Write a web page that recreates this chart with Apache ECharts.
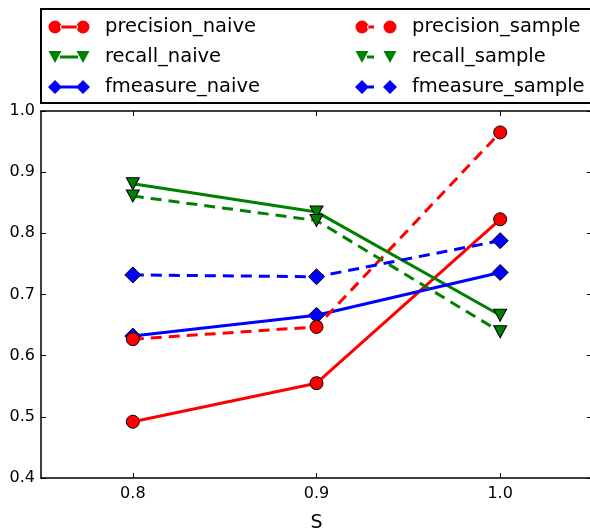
<!DOCTYPE html>
<html>
<head>
<meta charset="utf-8">
<script src="https://cdn.jsdelivr.net/npm/echarts@6/dist/echarts.min.js"></script>
<style>
html, body { margin: 0; padding: 0; background: #fff; }
#main { width: 590px; height: 529px; }
</style>
</head>
<body>
<div id="main"></div>
<script>
// data
var sValues = [0.8, 0.9, 1.0];
var yTicks = [0.4, 0.5, 0.6, 0.7, 0.8, 0.9, 1.0];
var precisionNaive = [0.492, 0.555, 0.823];
var recallNaive = [0.881, 0.835, 0.666];
var fmeasureNaive = [0.632, 0.666, 0.736];
var precisionSample = [0.627, 0.647, 0.965];
var recallSample = [0.861, 0.821, 0.639];
var fmeasureSample = [0.732, 0.729, 0.788];

var FONT = 'DejaVu Sans';

// legend icons: marker - line - marker (matplotlib style)
var circ = function (cx) {
    return 'M' + (cx - 6.5) + ',7a6.5,6.5 0 1,0 13,0a6.5,6.5 0 1,0 -13,0Z';
};
var tri = function (cx) {
    return 'M' + (cx - 6.5) + ',1L' + (cx + 6.5) + ',1L' + cx + ',13Z';
};
var dia = function (cx) {
    return 'M' + (cx - 7) + ',7L' + cx + ',0L' + (cx + 7) + ',7L' + cx + ',14Z';
};
var solidBar = 'M12,5.5L30,5.5L30,8.5L12,8.5Z';
var dashBar = 'M12,5.5L19,5.5L19,8.5L12,8.5Z';
// tiny anchors so every path spans the same 42x14 box
var box = 'M0,0L0.01,0L0.01,0.01ZM42,14L41.99,14L41.99,13.99Z';

var icons = {
    precision_naive: 'path://' + box + circ(7) + solidBar + circ(35),
    recall_naive: 'path://' + box + tri(7) + solidBar + tri(35),
    fmeasure_naive: 'path://' + box + dia(7) + solidBar + dia(35),
    precision_sample: 'path://' + box + circ(7) + dashBar + circ(35),
    recall_sample: 'path://' + box + tri(7) + dashBar + tri(35),
    fmeasure_sample: 'path://' + box + dia(7) + dashBar + dia(35)
};

function pts(arr) {
    return sValues.map(function (s, i) { return [s, arr[i]]; });
}

function mkSeries(name, arr, color, symbol, size, dashed) {
    return {
        name: name,
        type: 'line',
        data: pts(arr),
        symbol: symbol,
        symbolSize: size,
        symbolRotate: symbol === 'triangle' ? 180 : 0,
        showAllSymbol: true,
        clip: false,
        color: color,
        lineStyle: { color: color, width: 3, type: dashed ? [11, 7] : 'solid' },
        itemStyle: { color: color, borderColor: '#000', borderWidth: 1 },
        emphasis: { disabled: true },
        animation: false
    };
}

function legendData(names) {
    return names.map(function (n) { return { name: n, icon: icons[n] }; });
}

var legendCommon = {
    orient: 'vertical',
    top: 17,
    padding: 0,
    itemWidth: 42,
    itemHeight: 14,
    itemGap: 10,
    selectedMode: false,
    itemStyle: { borderWidth: 0 },
    textStyle: { fontFamily: FONT, fontSize: 19.5, color: '#000', padding: [0, 0, 0, 10] }
};

var tickFmt = function (v) { return Number(v).toFixed(1); };

var myChart = echarts.init(document.getElementById('main'));
var option = {
    backgroundColor: '#fff',
    animation: false,
    graphic: [{
        type: 'rect',
        shape: { x: 41, y: 9, width: 560, height: 94 },
        style: { fill: 'none', stroke: '#000', lineWidth: 2 },
        silent: true
    }],
    legend: [
        Object.assign({}, legendCommon, { left: 48, data: legendData(['precision_naive', 'recall_naive', 'fmeasure_naive']) }),
        Object.assign({}, legendCommon, { left: 355, data: legendData(['precision_sample', 'recall_sample', 'fmeasure_sample']) })
    ],
    grid: { left: 41, right: -2, top: 111, bottom: 51, outerBoundsMode: 'none' },
    xAxis: [{
        type: 'value',
        position: 'bottom',
        min: 0.75,
        max: 1.05,
        name: 'S',
        nameLocation: 'middle',
        nameGap: 36,
        nameTextStyle: { fontFamily: FONT, fontSize: 19, color: '#000' },
        axisLine: { show: true, onZero: false, lineStyle: { color: '#000', width: 1.5 } },
        axisTick: { show: true, inside: true, length: 5, customValues: sValues, lineStyle: { color: '#000', width: 1 } },
        axisLabel: { customValues: sValues, formatter: tickFmt, margin: 8, fontFamily: FONT, fontSize: 16, color: '#000' },
        splitLine: { show: false }
    }, {
        type: 'value',
        position: 'top',
        min: 0.75,
        max: 1.05,
        axisLine: { show: true, onZero: false, lineStyle: { color: '#000', width: 1.5 } },
        axisTick: { show: true, inside: true, length: 5, customValues: sValues, lineStyle: { color: '#000', width: 1 } },
        axisLabel: { show: false },
        splitLine: { show: false }
    }],
    yAxis: [{
        type: 'value',
        position: 'left',
        min: 0.4,
        max: 1.0,
        axisLine: { show: true, onZero: false, lineStyle: { color: '#000', width: 1.5 } },
        axisTick: { show: true, inside: true, length: 5, customValues: yTicks, lineStyle: { color: '#000', width: 1 } },
        axisLabel: { customValues: yTicks, formatter: tickFmt, margin: 6, fontFamily: FONT, fontSize: 16, color: '#000' },
        splitLine: { show: false }
    }, {
        type: 'value',
        position: 'right',
        min: 0.4,
        max: 1.0,
        axisLine: { show: true, onZero: false, lineStyle: { color: '#000', width: 1.5 } },
        axisTick: { show: true, inside: true, length: 5, customValues: yTicks, lineStyle: { color: '#000', width: 1 } },
        axisLabel: { show: false },
        splitLine: { show: false }
    }],
    series: [
        mkSeries('precision_naive', precisionNaive, '#ff0000', 'circle', 13, false),
        mkSeries('recall_naive', recallNaive, '#008000', 'triangle', [13, 12], false),
        mkSeries('fmeasure_naive', fmeasureNaive, '#0000ff', 'diamond', 16, false),
        mkSeries('precision_sample', precisionSample, '#ff0000', 'circle', 13, true),
        mkSeries('recall_sample', recallSample, '#008000', 'triangle', [13, 12], true),
        mkSeries('fmeasure_sample', fmeasureSample, '#0000ff', 'diamond', 16, true)
    ]
};
if (option && typeof option === "object") {
    myChart.setOption(option, true);
}
</script>
</body>
</html>
